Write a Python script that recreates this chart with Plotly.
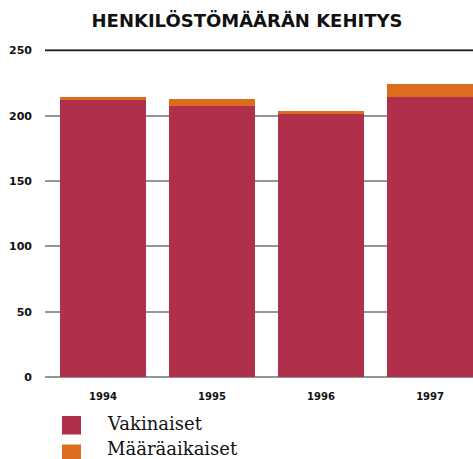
import plotly.graph_objects as go

years = ["1994", "1995", "1996", "1997"]
vakinaiset = [212, 207.5, 201, 214.5]
maaraaikaiset = [2.5, 5.5, 2.5, 10]
series_names = ["Vakinaiset", "Määräaikaiset"]
y_ticks = [0, 50, 100, 150, 200, 250]

RED = "#B0304B"
ORANGE = "#DC6C1E"
xpos = list(range(len(years)))

fig = go.Figure()
fig.add_trace(go.Bar(x=xpos, y=vakinaiset, name=series_names[0], marker_color=RED,
                     marker_line_width=0, width=0.79, showlegend=False))
fig.add_trace(go.Bar(x=xpos, y=maaraaikaiset, name=series_names[1], marker_color=ORANGE,
                     marker_line_width=0, width=0.79, showlegend=False))

# manual legend (large swatches)
for i, (name, col) in enumerate(zip(series_names, [RED, ORANGE])):
    y0 = 416 + i * 28.5
    fig.add_shape(type="rect", xref="paper", yref="paper",
                  x0=(62 - 45) / 428, x1=(81 - 45) / 428,
                  y0=(380 - y0) / 335, y1=(380 - y0 - 18.5) / 335,
                  fillcolor=col, line_width=0)
    fig.add_annotation(text=name, xref="paper", yref="paper",
                       x=(106 - 45) / 428, y=(380 - (423.8 + i * 25)) / 335,
                       xanchor="left", yanchor="middle", showarrow=False,
                       borderpad=0,
                       font=dict(family="DejaVu Serif", size=18, color="#111"))

# top line at 250 darker
fig.add_shape(type="line", xref="paper", yref="y", x0=0, x1=1, y0=250, y1=250,
              line=dict(color="#222", width=1.5), layer="above")

fig.update_layout(
    width=473, height=459,
    margin=dict(l=45, r=0, t=45, b=79),
    barmode="stack",
    plot_bgcolor="white", paper_bgcolor="white",
    title=dict(text="HENKILÖSTÖMÄÄRÄN KEHITYS", x=247 / 473, xanchor="center",
               y=1 - 21 / 459, yanchor="middle",
               font=dict(family="DejaVu Sans", size=18, weight="bold", color="#111")),
    xaxis=dict(range=[-0.532, 3.394], tickvals=xpos, ticktext=years,
               showgrid=False, zeroline=False, showline=False,
               tickfont=dict(family="DejaVu Sans", size=10, weight="bold", color="#111"),
               ticks="outside", ticklen=7, tickcolor="rgba(0,0,0,0)"),
    yaxis=dict(range=[-2.3, 254.2], tickvals=y_ticks, showgrid=True,
               gridcolor="#959595", gridwidth=1.5, zeroline=False, showline=False,
               tickfont=dict(family="DejaVu Sans", size=11, weight="bold", color="#111"),
               ticklabelstandoff=12),
)

fig.write_html("out.html", config={"displayModeBar": False},
               post_script="document.body.style.margin='0';")
